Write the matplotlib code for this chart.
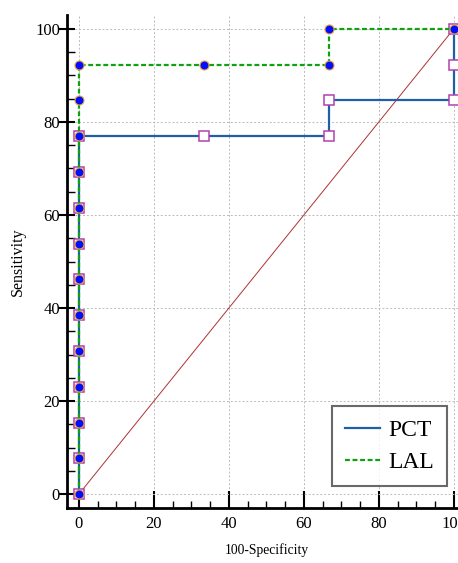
import matplotlib
matplotlib.use("Agg")
import matplotlib.pyplot as plt
from matplotlib.ticker import MultipleLocator

# Data
pct_x = [0, 0, 0, 0, 0, 0, 0, 0, 0, 0, 0, 33.33, 66.67, 66.67, 100, 100, 100]
pct_y = [0, 7.69, 15.38, 23.08, 30.77, 38.46, 46.15, 53.85, 61.54, 69.23, 76.92, 76.92, 76.92, 84.62, 84.62, 92.31, 100]
lal_x = [0, 0, 0, 0, 0, 0, 0, 0, 0, 0, 0, 0, 0, 33.33, 66.67, 66.67, 100]
lal_y = [0, 7.69, 15.38, 23.08, 30.77, 38.46, 46.15, 53.85, 61.54, 69.23, 76.92, 84.62, 92.31, 92.31, 92.31, 100, 100]
diag = [0, 100]
xticks = [0, 20, 40, 60, 80, 100]
yticks = [0, 20, 40, 60, 80, 100]

plt.rcParams['font.family'] = ['Liberation Serif', 'DejaVu Serif']

fig = plt.figure(figsize=(4.58, 5.63), dpi=100)
W, H = 458, 563
ax = fig.add_axes([67 / W, (H - 508) / H, 398 / W, (508 - 15) / H])
ax.set_xlim(-3.2, 103)
ax.set_ylim(-3.0, 103)

ax.grid(True, which='major', color='#bbbbbb', linestyle=(0, (2, 2)), linewidth=0.7)
ax.set_axisbelow(True)

ax.plot(diag, diag, color='#b03030', linewidth=0.7, zorder=2)

ax.plot(pct_x, pct_y, drawstyle='steps-post', color='#1f5fa8', linewidth=1.6, zorder=3,
        label='PCT')
ax.plot(pct_x, pct_y, linestyle='none', marker='s', markersize=7, markerfacecolor='white',
        markeredgecolor='#b040b0', markeredgewidth=1.1, zorder=4)

ax.plot(lal_x, lal_y, color='#11a011', linestyle=(0, (2.2, 1.2)), linewidth=1.6, zorder=5,
        label='LAL')
ax.plot(lal_x, lal_y, linestyle='none', marker='o', markersize=6.5, markerfacecolor='#0010ff',
        markeredgecolor='#f0a040', markeredgewidth=0.8, zorder=6)

for s in ['top', 'right']:
    ax.spines[s].set_visible(False)
for s in ['left', 'bottom']:
    ax.spines[s].set_linewidth(2.0)

ax.set_xticks(xticks)
ax.set_yticks(yticks)
ax.xaxis.set_minor_locator(MultipleLocator(5))
ax.yaxis.set_minor_locator(MultipleLocator(5))
ax.tick_params(axis='x', which='major', direction='in', length=12, width=1.5, labelsize=12, pad=6)
ax.tick_params(axis='x', which='minor', direction='in', length=5, width=1.0)
ax.tick_params(axis='y', which='major', direction='inout', length=12, width=1.5, labelsize=12, pad=-1)
ax.tick_params(axis='y', which='minor', direction='in', length=6, width=1.0)

ax.set_xlabel('100-Specificity', fontsize=9.8)
ax.set_ylabel('Sensitivity', fontsize=11.5)
ax.xaxis.set_label_coords((267 - 67) / 398, -(543 - 508) / 493)
ax.yaxis.set_label_coords(-(67 - 26) / 398, (508 - 262) / 493)

leg = ax.legend(loc='lower right', bbox_to_anchor=((447 - 67) / 398, (508 - 486) / 493),
                fontsize=17, frameon=True, fancybox=False, edgecolor='#444444',
                handlelength=1.5, borderpad=0.55, labelspacing=0.45, handletextpad=0.35,
                borderaxespad=0)
leg.get_frame().set_linewidth(1.5)

fig.savefig('out.png', dpi=100)
